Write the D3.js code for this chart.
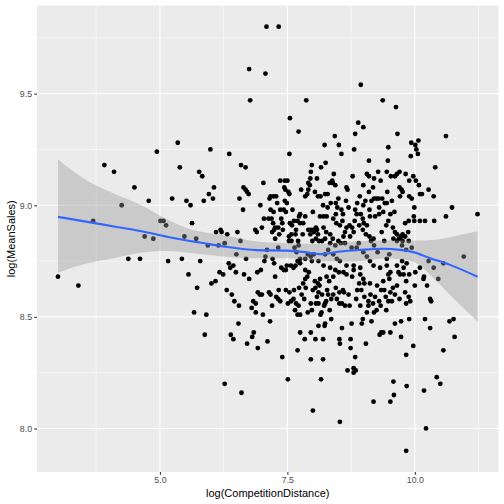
<!DOCTYPE html>
<html>
<head>
<meta charset="utf-8">
<script src="https://cdn.jsdelivr.net/npm/d3@7"></script>
<style>
  body { margin: 0; background: #fff; }
  svg { display: block; font-family: "Liberation Sans", Arial, sans-serif; }
</style>
</head>
<body>
<div id="chart"></div>
<script>
// log(CompetitionDistance) for each store
const distX = [
  3.91, 4.94, 7.09, 7.33, 6.75, 7.07, 6.77, 7.87, 7.55, 7.72, 8.43, 5.35, 5.99, 6.36, 8.23, 7.54, 6.59, 6.68, 5.39, 7.98,
  8.16, 8.25, 8.94, 9.37, 9.63, 8.89, 8.99, 8.83, 8.51, 9.66, 10.61, 8.56, 8.81, 9.48, 9.93, 10.01, 10.07, 10.03, 10.06, 9.92,
  9.10, 9.47, 10.40, 3.00, 3.40, 3.69, 4.10, 4.50, 4.78, 4.25, 4.70, 4.87, 4.38, 4.61, 5.01, 5.07, 5.12, 5.16, 5.24, 5.52,
  5.60, 5.43, 5.56, 5.73, 5.67, 5.91, 5.79, 5.63, 5.48, 5.71, 5.94, 5.77, 5.83, 6.06, 5.96, 6.04, 5.86, 5.88, 6.64, 6.68,
  6.71, 6.74, 7.03, 6.56, 6.63, 6.97, 6.10, 6.21, 6.19, 6.32, 6.52, 6.58, 6.27, 6.15, 6.17, 6.35, 6.38, 6.44, 6.49, 6.69,
  6.50, 6.91, 7.07, 7.05, 7.21, 7.24, 7.32, 7.10, 6.98, 7.38, 7.43, 7.49, 7.57, 7.62, 7.66, 7.73, 7.85, 7.92, 7.36, 7.45,
  7.50, 7.44, 7.46, 7.52, 7.54, 7.17, 7.23, 7.28, 7.15, 7.30, 7.45, 7.49, 7.77, 7.85, 7.89, 7.91, 7.94, 7.95, 7.96, 7.91,
  8.08, 8.10, 8.04, 7.17, 7.23, 7.36, 7.43, 7.47, 7.38, 7.19, 7.13, 7.04, 7.22, 7.26, 7.20, 7.24, 7.32, 7.41, 7.34, 7.40,
  7.55, 7.59, 7.63, 7.70, 7.75, 7.75, 7.81, 7.73, 6.87, 6.90, 7.00, 7.53, 7.58, 7.67, 7.66, 7.53, 7.58, 7.71, 7.91, 7.96,
  8.01, 8.02, 8.06, 8.08, 8.10, 7.99, 8.06, 8.12, 7.95, 7.26, 7.64, 7.72, 7.68, 7.75, 7.85, 7.90, 7.96, 7.98, 8.02, 8.11,
  7.70, 7.75, 8.41, 8.33, 8.39, 8.44, 8.38, 8.78, 9.06, 9.10, 9.28, 9.33, 9.20, 9.18, 9.10, 8.99, 9.45, 9.53, 9.61, 9.65,
  9.70, 9.82, 9.97, 9.89, 10.02, 10.08, 10.10, 10.14, 10.27, 10.37, 9.46, 9.70, 9.74, 9.71, 9.76, 9.89, 9.94, 9.99, 9.98, 9.88,
  9.81, 9.87, 9.99, 10.10, 10.20, 10.38, 10.61, 8.66, 8.68, 8.65, 8.50, 8.45, 8.29, 8.24, 8.15, 8.35, 8.87, 9.03, 9.20, 9.25,
  9.29, 9.41, 9.45, 9.30, 9.11, 8.99, 8.83, 8.29, 8.48, 8.45, 8.59, 8.86, 8.94, 8.98, 9.12, 9.22, 9.30, 8.27, 8.21, 8.14,
  8.46, 8.53, 8.66, 8.72, 8.77, 8.82, 8.80, 8.63, 8.60, 8.73, 8.91, 9.00, 9.06, 8.98, 9.04, 9.11, 9.19, 9.14, 9.35, 9.44,
  9.48, 9.57, 9.61, 9.65, 9.58, 9.69, 9.73, 9.76, 9.81, 9.88, 9.76, 9.65, 9.75, 8.21, 8.26, 8.34, 8.39, 8.24, 8.18, 8.34,
  8.50, 8.44, 8.55, 8.63, 8.76, 8.86, 8.99, 9.06, 9.27, 9.50, 9.45, 9.83, 9.94, 10.27, 10.37, 10.96, 10.56, 10.46, 8.24, 8.40,
  8.47, 8.21, 8.34, 8.44, 8.53, 8.66, 8.80, 8.93, 9.12, 9.19, 9.32, 9.45, 9.65, 9.75, 9.84, 10.10, 9.52, 9.68, 9.78, 6.01,
  6.09, 6.24, 6.65, 6.75, 7.26, 7.47, 6.31, 6.41, 6.46, 6.55, 6.54, 6.39, 6.44, 6.84, 6.81, 6.71, 6.92, 7.11, 7.16, 6.92,
  6.96, 7.00, 6.83, 6.88, 6.80, 6.88, 7.02, 7.14, 7.17, 7.20, 7.33, 7.28, 7.32, 7.36, 7.40, 7.51, 6.27, 6.60, 7.47, 7.54,
  7.63, 7.57, 7.51, 7.62, 7.67, 7.72, 7.65, 7.70, 7.75, 7.90, 7.98, 7.73, 7.81, 7.86, 7.78, 7.83, 7.89, 7.85, 7.96, 8.06,
  8.11, 8.08, 8.11, 8.05, 8.13, 8.04, 8.14, 8.10, 8.24, 8.22, 8.17, 8.15, 8.26, 8.33, 8.36, 8.23, 8.11, 8.24, 8.30, 8.40,
  7.96, 7.84, 7.75, 8.05, 8.20, 7.70, 7.96, 8.20, 8.16, 8.00, 8.53, 8.51, 8.60, 8.66, 8.80, 8.40, 8.32, 8.27, 8.52, 8.61,
  8.57, 8.63, 8.52, 8.59, 8.77, 8.93, 8.99, 9.01, 8.91, 9.12, 8.95, 9.01, 8.93, 9.09, 9.09, 9.22, 9.18, 9.30, 9.33, 9.38,
  9.50, 9.48, 9.34, 9.40, 9.52, 9.61, 9.70, 9.81, 9.88, 9.91, 9.83, 9.48, 9.55, 9.20, 9.25, 9.06, 8.98, 8.96, 9.15, 9.44,
  9.61, 9.73, 9.89, 9.71, 9.78, 9.83, 9.89, 10.01, 10.18, 10.17, 10.24, 10.00, 10.30, 10.32, 10.20, 10.30, 10.68, 8.76, 8.57, 8.52,
  8.53, 8.74, 8.74, 8.83, 8.68, 8.80, 8.84, 8.80, 9.04, 9.34, 9.38, 9.31, 9.52, 9.73, 9.97, 9.83, 10.56, 9.58, 9.59, 9.84,
  9.52, 9.19, 10.43, 10.50, 10.18, 10.22, 9.83, 10.78, 11.23, 10.73, 10.76,
  8.00, 8.18, 8.28, 8.36, 8.45, 8.47, 8.70, 8.72, 8.85, 8.87, 9.13, 9.26, 9.43, 9.65, 9.57, 8.56, 8.70, 8.92, 9.15, 9.36,
  9.55, 8.40, 8.58, 9.38, 9.52, 9.60, 8.90, 9.20, 9.40, 8.30, 7.80, 7.85, 8.00, 8.20, 7.60
];

// log(MeanSales) for each store, same order
const salesY = [
  9.18, 9.24, 9.80, 9.80, 9.61, 9.59, 9.47, 9.47, 9.39, 9.33, 9.31, 9.28, 9.25, 9.23, 9.27, 9.23, 9.18, 9.17, 9.17, 9.18,
  9.17, 9.19, 9.54, 9.47, 9.44, 9.37, 9.35, 9.32, 9.27, 9.32, 9.31, 9.23, 9.25, 9.26, 9.28, 9.27, 9.29, 9.25, 9.23, 9.22,
  9.20, 9.20, 9.17, 8.68, 8.64, 8.93, 9.15, 9.08, 9.02, 9.00, 8.86, 8.85, 8.76, 8.76, 8.93, 8.93, 8.91, 8.75, 9.03, 9.02,
  9.00, 8.76, 8.69, 8.63, 8.52, 8.51, 8.75, 8.92, 8.86, 8.85, 8.82, 9.15, 9.13, 9.08, 9.05, 9.03, 9.02, 8.42, 9.08, 9.07,
  9.06, 9.05, 9.10, 9.03, 8.98, 9.00, 8.88, 8.88, 8.89, 8.87, 8.88, 8.84, 8.83, 8.82, 8.70, 8.74, 8.72, 8.73, 8.70, 8.76,
  8.78, 8.70, 8.77, 8.75, 8.76, 8.74, 8.81, 8.80, 8.71, 8.72, 8.71, 8.73, 8.73, 8.72, 8.73, 8.75, 8.71, 8.70, 9.11, 9.11,
  9.11, 9.08, 9.07, 9.06, 9.05, 9.04, 9.04, 9.04, 9.03, 9.01, 9.02, 9.01, 9.07, 9.04, 9.05, 9.07, 9.09, 9.12, 9.15, 9.10,
  9.12, 9.04, 9.06, 8.98, 8.97, 8.98, 8.98, 8.97, 8.94, 8.94, 8.94, 8.94, 8.92, 8.90, 8.88, 8.89, 8.90, 8.89, 8.87, 8.92,
  8.92, 8.91, 8.93, 8.93, 8.96, 8.92, 8.92, 8.95, 8.89, 8.88, 8.90, 8.86, 8.87, 8.89, 8.87, 8.84, 8.84, 8.84, 8.89, 8.89,
  8.89, 8.88, 8.90, 8.89, 8.87, 8.84, 8.85, 8.84, 8.87, 8.85, 8.81, 8.82, 8.79, 8.76, 8.76, 8.78, 8.77, 8.75, 8.78, 8.75,
  8.75, 8.74, 9.14, 9.10, 9.10, 9.09, 9.11, 9.13, 9.14, 9.13, 9.15, 9.11, 9.12, 9.08, 9.06, 9.09, 9.15, 9.13, 9.13, 9.14,
  9.15, 9.14, 9.13, 9.11, 9.11, 9.09, 9.05, 9.05, 9.07, 9.04, 9.06, 9.08, 9.07, 9.04, 9.06, 9.04, 9.03, 8.99, 8.95, 8.93,
  8.92, 8.88, 8.93, 8.93, 8.93, 8.93, 8.95, 9.08, 9.07, 9.02, 9.03, 9.01, 9.05, 9.05, 9.04, 9.01, 9.01, 9.02, 9.03, 9.03,
  9.03, 9.01, 9.01, 8.99, 8.98, 9.00, 8.98, 8.99, 8.99, 8.96, 8.96, 8.96, 8.96, 8.94, 8.95, 8.95, 8.96, 8.95, 8.95, 8.95,
  8.92, 8.91, 8.90, 8.91, 8.90, 8.93, 8.88, 8.88, 8.86, 8.86, 8.91, 8.92, 8.91, 8.89, 8.87, 8.86, 8.85, 8.84, 8.88, 8.91,
  8.93, 8.90, 8.88, 8.87, 8.85, 8.85, 8.86, 8.87, 8.86, 8.84, 8.84, 8.84, 8.82, 8.90, 8.88, 8.87, 8.85, 8.85, 8.84, 8.83,
  8.84, 8.82, 8.83, 8.83, 8.81, 8.81, 8.79, 8.77, 8.79, 8.78, 8.76, 8.80, 8.81, 8.75, 8.72, 8.77, 8.74, 8.67, 8.78, 8.78,
  8.76, 8.73, 8.72, 8.71, 8.75, 8.73, 8.73, 8.72, 8.75, 8.73, 8.72, 8.73, 8.73, 8.75, 8.74, 8.72, 8.70, 8.70, 8.72, 8.65,
  8.66, 8.69, 8.69, 8.67, 8.68, 8.71, 8.62, 8.60, 8.57, 8.55, 8.47, 8.42, 8.40, 8.43, 8.41, 8.38, 8.36, 8.39, 8.48, 8.61,
  8.60, 8.60, 8.57, 8.56, 8.54, 8.52, 8.51, 8.61, 8.60, 8.55, 8.62, 8.59, 8.58, 8.57, 8.32, 8.22, 8.20, 8.16, 8.62, 8.61,
  8.62, 8.57, 8.56, 8.58, 8.56, 8.55, 8.53, 8.51, 8.51, 8.52, 8.53, 8.63, 8.65, 8.63, 8.60, 8.58, 8.68, 8.67, 8.56, 8.56,
  8.56, 8.59, 8.61, 8.63, 8.64, 8.66, 8.67, 8.65, 8.56, 8.55, 8.52, 8.51, 8.57, 8.53, 8.49, 8.46, 8.46, 8.47, 8.60, 8.60,
  8.43, 8.40, 8.43, 8.40, 8.40, 8.35, 8.31, 8.31, 8.22, 8.08, 8.03, 8.70, 8.70, 8.69, 8.71, 8.68, 8.66, 8.68, 8.61, 8.61,
  8.56, 8.55, 8.56, 8.62, 8.68, 8.69, 8.67, 8.65, 8.65, 8.65, 8.62, 8.59, 8.55, 8.57, 8.55, 8.59, 8.56, 8.57, 8.55, 8.66,
  8.67, 8.69, 8.62, 8.62, 8.61, 8.60, 8.58, 8.61, 8.59, 8.57, 8.56, 8.57, 8.57, 8.52, 8.53, 8.52, 8.49, 8.47, 8.48, 8.53,
  8.47, 8.48, 8.49, 8.69, 8.69, 8.66, 8.69, 8.70, 8.68, 8.67, 8.64, 8.64, 8.58, 8.57, 8.49, 8.45, 8.48, 8.47, 8.45, 8.40,
  8.38, 8.40, 8.36, 8.32, 8.26, 8.27, 8.26, 8.25, 8.38, 8.43, 8.43, 8.42, 8.43, 8.41, 8.37, 8.33, 8.35, 8.21, 8.15, 8.19,
  8.12, 8.12, 8.23, 8.20, 8.17, 8.00, 7.90, 8.41, 8.96, 8.99, 8.49,
  8.62, 8.60, 8.62, 8.58, 8.63, 8.58, 8.60, 8.55, 8.58, 8.62, 8.60, 8.64, 8.59, 8.64, 8.63, 8.98, 8.99, 9.04, 9.02, 9.03,
  9.02, 8.94, 8.93, 8.97, 8.96, 8.97, 8.83, 8.82, 8.84, 8.80, 8.87, 8.95, 8.97, 9.00, 8.98
];

// loess fit with 95% band
const fitX = [3.00, 3.49, 4.15, 4.61, 5.16, 5.59, 5.81, 6.24, 6.90, 7.49, 7.85, 8.14, 8.53, 8.93, 9.38, 9.71, 9.97, 10.30, 10.69, 11.23];
const fitY = [8.948, 8.929, 8.903, 8.885, 8.858, 8.840, 8.832, 8.816, 8.799, 8.797, 8.790, 8.781, 8.793, 8.800, 8.805, 8.800, 8.790, 8.763, 8.733, 8.680];
const bandX = [3.00, 3.49, 4.15, 4.61, 5.16, 5.59, 6.24, 6.90, 7.55, 8.14, 8.80, 9.45, 9.97, 10.42, 10.81, 11.23];
const bandHi = [9.205, 9.122, 9.047, 9.003, 8.934, 8.893, 8.867, 8.838, 8.830, 8.827, 8.838, 8.842, 8.842, 8.846, 8.864, 8.884];
const bandLo = [8.698, 8.735, 8.765, 8.787, 8.795, 8.786, 8.771, 8.763, 8.763, 8.749, 8.748, 8.763, 8.747, 8.661, 8.571, 8.479];

// axis ticks
const xTicks = [5, 7.5, 10];
const xTickLabels = ["5.0", "7.5", "10.0"];
const xMinor = [3.75, 6.25, 8.75, 11.25];
const yTicks = [8.0, 8.5, 9.0, 9.5];
const yTickLabels = ["8.0", "8.5", "9.0", "9.5"];
const yMinor = [8.25, 8.75, 9.25, 9.75];

const width = 504;
const height = 504;
const marginTop = 5.5;
const marginRight = 5.5;
const marginBottom = 32;
const marginLeft = 37;

const points = distX.map((d, i) => ({ x: d, y: salesY[i] }));
const fit = fitX.map((d, i) => ({ x: d, y: fitY[i] }));
const band = bandX.map((d, i) => ({ x: d, hi: bandHi[i], lo: bandLo[i] }));

// ggplot-style 5% expansion of the data range
function expand([a, b]) {
    const pad = (b - a) * 0.05;
    return [a - pad, b + pad];
}

const x = d3.scaleLinear()
    .domain(expand(d3.extent(distX)))
    .range([marginLeft, width - marginRight]);

const y = d3.scaleLinear()
    .domain(expand(d3.extent(salesY)))
    .range([height - marginBottom, marginTop]);

const svg = d3.select("#chart")
    .append("svg")
    .attr("width", width)
    .attr("height", height)
    .attr("viewBox", [0, 0, width, height]);

// panel background
svg.append("rect")
    .attr("x", marginLeft)
    .attr("y", marginTop)
    .attr("width", width - marginRight - marginLeft)
    .attr("height", height - marginBottom - marginTop)
    .attr("fill", "#EBEBEB");

// grid lines
const grid = svg.append("g").attr("stroke", "#fff");
grid.selectAll(".xminor").data(xMinor).join("line")
    .attr("x1", d => x(d)).attr("x2", d => x(d))
    .attr("y1", marginTop).attr("y2", height - marginBottom)
    .attr("stroke-width", 0.53);
grid.selectAll(".yminor").data(yMinor).join("line")
    .attr("y1", d => y(d)).attr("y2", d => y(d))
    .attr("x1", marginLeft).attr("x2", width - marginRight)
    .attr("stroke-width", 0.53);
grid.selectAll(".xmajor").data(xTicks).join("line")
    .attr("x1", d => x(d)).attr("x2", d => x(d))
    .attr("y1", marginTop).attr("y2", height - marginBottom)
    .attr("stroke-width", 1.07);
grid.selectAll(".ymajor").data(yTicks).join("line")
    .attr("y1", d => y(d)).attr("y2", d => y(d))
    .attr("x1", marginLeft).attr("x2", width - marginRight)
    .attr("stroke-width", 1.07);

// points
svg.append("g")
    .selectAll("circle")
    .data(points)
    .join("circle")
    .attr("cx", d => x(d.x))
    .attr("cy", d => y(d.y))
    .attr("r", 2.4)
    .attr("fill", "#000");

// confidence band
const area = d3.area()
    .curve(d3.curveMonotoneX)
    .x(d => x(d.x))
    .y0(d => y(d.lo))
    .y1(d => y(d.hi));

svg.append("path")
    .datum(band)
    .attr("fill", "#999999")
    .attr("fill-opacity", 0.4)
    .attr("d", area);

// fitted line
const line = d3.line()
    .curve(d3.curveMonotoneX)
    .x(d => x(d.x))
    .y(d => y(d.y));

svg.append("path")
    .datum(fit)
    .attr("fill", "none")
    .attr("stroke", "#3366FF")
    .attr("stroke-width", 2.1)
    .attr("d", line);

// axes
const xAxis = svg.append("g")
    .attr("transform", `translate(0,${height - marginBottom})`)
    .call(d3.axisBottom(x)
        .tickValues(xTicks)
        .tickFormat((d, i) => xTickLabels[i])
        .tickSize(2.75)
        .tickPadding(2.2));
xAxis.select(".domain").remove();
xAxis.selectAll(".tick line").attr("stroke", "#333333").attr("stroke-width", 1.07);
xAxis.selectAll(".tick text")
    .attr("fill", "#4D4D4D")
    .style("font-size", "8.8px")
    .style("font-family", "'Liberation Sans', Arial, sans-serif");

const yAxis = svg.append("g")
    .attr("transform", `translate(${marginLeft},0)`)
    .call(d3.axisLeft(y)
        .tickValues(yTicks)
        .tickFormat((d, i) => yTickLabels[i])
        .tickSize(2.75)
        .tickPadding(2.2));
yAxis.select(".domain").remove();
yAxis.selectAll(".tick line").attr("stroke", "#333333").attr("stroke-width", 1.07);
yAxis.selectAll(".tick text")
    .attr("fill", "#4D4D4D")
    .style("font-size", "8.8px")
    .style("font-family", "'Liberation Sans', Arial, sans-serif");

// axis titles
svg.append("text")
    .attr("x", (marginLeft + width - marginRight) / 2)
    .attr("y", 497)
    .attr("text-anchor", "middle")
    .style("font-size", "11px")
    .attr("fill", "#000")
    .text("log(CompetitionDistance)");

svg.append("text")
    .attr("transform", `translate(14.5,${(marginTop + height - marginBottom) / 2}) rotate(-90)`)
    .attr("text-anchor", "middle")
    .style("font-size", "11px")
    .attr("fill", "#000")
    .text("log(MeanSales)");
</script>
</body>
</html>
